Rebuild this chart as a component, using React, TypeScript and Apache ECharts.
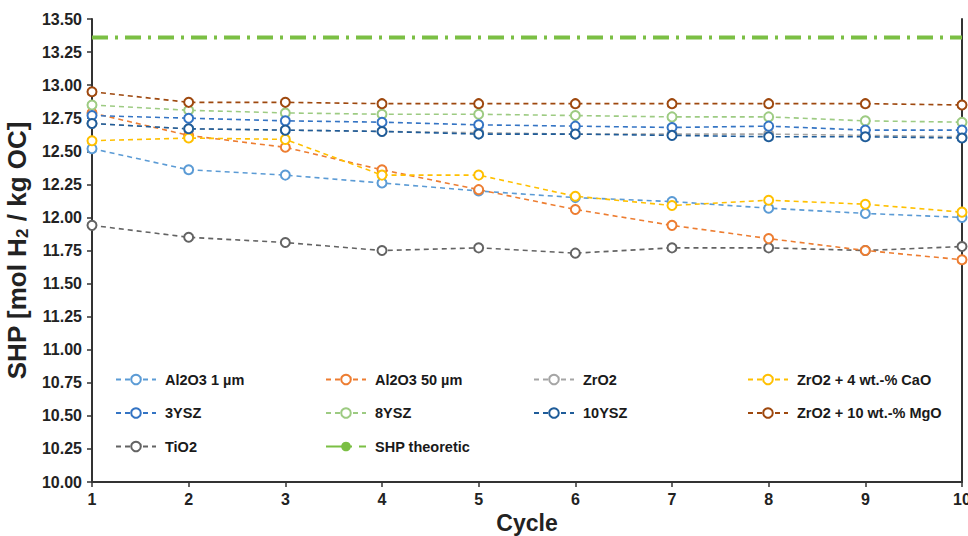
import React, { useEffect, useRef } from "react";
import * as echarts from "echarts";

const cycles = ["1", "2", "3", "4", "5", "6", "7", "8", "9", "10"];

const al2o3_1um = [12.52, 12.36, 12.32, 12.26, 12.2, 12.15, 12.12, 12.07, 12.03, 12.0];
const al2o3_50um = [12.79, 12.62, 12.53, 12.36, 12.21, 12.06, 11.94, 11.84, 11.75, 11.68];
const zro2 = [12.71, 12.67, 12.66, 12.65, 12.64, 12.63, 12.63, 12.63, 12.62, 12.61];
const zro2CaO = [12.58, 12.6, 12.59, 12.32, 12.32, 12.16, 12.09, 12.13, 12.1, 12.04];
const ysz3 = [12.77, 12.75, 12.73, 12.72, 12.7, 12.69, 12.68, 12.69, 12.66, 12.66];
const ysz8 = [12.85, 12.81, 12.79, 12.78, 12.78, 12.77, 12.76, 12.76, 12.73, 12.72];
const ysz10 = [12.71, 12.67, 12.66, 12.65, 12.63, 12.63, 12.62, 12.61, 12.61, 12.6];
const zro2MgO = [12.95, 12.87, 12.87, 12.86, 12.86, 12.86, 12.86, 12.86, 12.86, 12.85];
const tio2 = [11.94, 11.85, 11.81, 11.75, 11.77, 11.73, 11.77, 11.77, 11.75, 11.78];
const shpTheoretic = [13.36, 13.36, 13.36, 13.36, 13.36, 13.36, 13.36, 13.36, 13.36, 13.36];

const FONT = "'Liberation Sans', Arial, sans-serif";

function lineSeries(name: string, data: number[], color: string) {
  return {
    name,
    type: "line",
    data,
    symbol: "circle",
    symbolSize: 9,
    showSymbol: true,
    itemStyle: { color: "#ffffff", borderColor: color, borderWidth: 2 },
    lineStyle: { color, width: 1.6, type: [5, 4] },
    z: 3,
  };
}

export default function App() {
  const ref = useRef<HTMLDivElement>(null);
  useEffect(() => {
    document.body.style.margin = "0";
    document.body.style.overflow = "hidden";
    if (!ref.current) return;
    const chart = echarts.init(ref.current, undefined, { renderer: "svg" });
    const legendBase = {
      orient: "vertical",
      itemWidth: 40,
      itemHeight: 12,
      itemGap: 18.5,
      textStyle: { fontFamily: FONT, fontSize: 14.5, fontWeight: "bold", color: "#1a1a1a", padding: [0, 0, 0, 4] },
      selectedMode: false,
    };
    chart.setOption({
      animation: false,
      backgroundColor: "#ffffff",
      grid: { left: 92, right: 6, top: 19, bottom: 54, containLabel: false, outerBoundsMode: "none" },
      legend: [
        { ...legendBase, left: 110, top: 367, data: ["Al2O3 1 µm", "3YSZ", "TiO2"] },
        { ...legendBase, left: 320, top: 367, data: ["Al2O3 50 µm", "8YSZ", "SHP theoretic"] },
        { ...legendBase, left: 528, top: 367, data: ["ZrO2", "10YSZ"] },
        { ...legendBase, left: 742, top: 367, data: ["ZrO2 + 4 wt.-% CaO", "ZrO2 + 10 wt.-% MgO"] },
      ],
      xAxis: {
        type: "category",
        data: cycles,
        boundaryGap: false,
        name: "Cycle",
        nameLocation: "middle",
        nameGap: 27,
        nameTextStyle: { fontFamily: FONT, fontSize: 23, fontWeight: "bold", color: "#222" },
        axisLine: { lineStyle: { color: "#333", width: 2 } },
        axisTick: { show: true, alignWithLabel: true, length: 5, lineStyle: { color: "#333", width: 1.5 } },
        axisLabel: { fontFamily: FONT, fontSize: 16, fontWeight: "bold", color: "#222", margin: 9 },
        splitLine: { show: false },
      },
      yAxis: [
        {
          type: "value",
          min: 10,
          max: 13.5,
          interval: 0.25,
          name: "{a|SHP [mol H}{s|2}{a| / kg OC]}",
          nameLocation: "middle",
          nameGap: 58,
          nameRotate: 90,
          nameTextStyle: {
            padding: [0, 0, 0, 0],
            rich: {
              a: { fontFamily: FONT, fontSize: 26, fontWeight: "bold", color: "#222" },
              s: { fontFamily: FONT, fontSize: 17, fontWeight: "bold", color: "#222", verticalAlign: "bottom", padding: [11, 0, 0, 0] },
            },
          },
          axisLine: { show: true, lineStyle: { color: "#333", width: 2 } },
          axisTick: { show: true, length: 5, lineStyle: { color: "#333", width: 1.5 } },
          axisLabel: {
            fontFamily: FONT,
            fontSize: 16,
            fontWeight: "bold",
            color: "#222",
            margin: 10,
            formatter: (v: number) => v.toFixed(2),
          },
          splitLine: { show: false },
        },
        {
          type: "value",
          min: 10,
          max: 13.5,
          interval: 0.25,
          position: "right",
          axisLine: { show: true, lineStyle: { color: "#333", width: 2 } },
          axisTick: { show: false },
          axisLabel: { show: false },
          splitLine: { show: false },
        },
      ],
      series: [
        {
          name: "SHP theoretic",
          type: "line",
          data: shpTheoretic,
          symbol: "none",
          itemStyle: { color: "#7BBF44" },
          lineStyle: { color: "#7BBF44", width: 4, type: [16, 7, 3, 7] },
          z: 2,
        },
        lineSeries("TiO2", tio2, "#636363"),
        lineSeries("ZrO2", zro2, "#A5A5A5"),
        lineSeries("Al2O3 1 µm", al2o3_1um, "#5B9BD5"),
        lineSeries("Al2O3 50 µm", al2o3_50um, "#ED7D31"),
        lineSeries("ZrO2 + 4 wt.-% CaO", zro2CaO, "#FFC000"),
        lineSeries("8YSZ", ysz8, "#9DCB82"),
        lineSeries("3YSZ", ysz3, "#3474C4"),
        lineSeries("10YSZ", ysz10, "#1F5C99"),
        lineSeries("ZrO2 + 10 wt.-% MgO", zro2MgO, "#9E480E"),
      ],
    });
    return () => chart.dispose();
  }, []);
  return <div ref={ref} style={{ width: 968, height: 536 }} />;
}
